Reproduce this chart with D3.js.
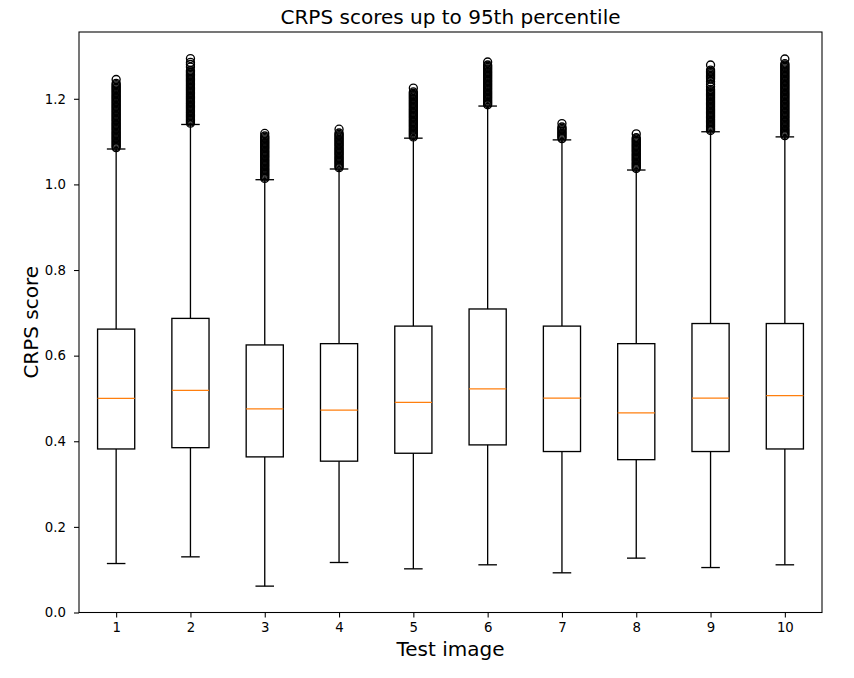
<!DOCTYPE html>
<html>
<head>
<meta charset="utf-8">
<script src="https://cdn.jsdelivr.net/npm/d3@7"></script>
<style>
  html, body { margin: 0; padding: 0; background: #fff; }
  svg { display: block; font-family: "DejaVu Sans", sans-serif; }
</style>
</head>
<body>
<svg id="chart" width="854" height="678"></svg>
<script>
// ---- data ----
const categories = ["1","2","3","4","5","6","7","8","9","10"];
const q1        = [0.382, 0.385, 0.3635, 0.3535, 0.372, 0.3915, 0.376, 0.357, 0.376, 0.382];
const medians   = [0.500, 0.519, 0.4756, 0.4726, 0.491, 0.5223, 0.5006, 0.4663, 0.5006, 0.5067];
const q3        = [0.662, 0.687, 0.625, 0.628, 0.669, 0.709, 0.669, 0.628, 0.675, 0.675];
const whiskerLo = [0.1144, 0.130, 0.0616, 0.1168, 0.102, 0.1114, 0.0927, 0.127, 0.105, 0.1114];
const whiskerHi = [1.0827, 1.140, 1.011, 1.036, 1.108, 1.183, 1.104, 1.0336, 1.123, 1.111];
const fliers1 = [1.086,1.089,1.092,1.095,1.098,1.101,1.104,1.107,1.110,1.113,1.116,1.119,1.122,1.125,1.128,1.131,1.134,1.137,1.140,1.143,1.146,1.149,1.152,1.155,1.158,1.161,1.164,1.167,1.170,1.173,1.176,1.179,1.182,1.185,1.188,1.191,1.194,1.197,1.200,1.203,1.206,1.209,1.212,1.215,1.218,1.221,1.224,1.227,1.230,1.233,1.236,1.245];
const fliers2 = [1.143,1.146,1.149,1.152,1.155,1.158,1.161,1.164,1.167,1.170,1.173,1.176,1.179,1.182,1.185,1.188,1.191,1.194,1.197,1.200,1.203,1.206,1.209,1.212,1.215,1.218,1.221,1.224,1.227,1.230,1.233,1.236,1.239,1.242,1.245,1.248,1.251,1.254,1.257,1.260,1.263,1.266,1.274,1.280,1.285,1.294];
const fliers3 = [1.014,1.017,1.020,1.023,1.026,1.029,1.032,1.035,1.038,1.041,1.044,1.047,1.050,1.053,1.056,1.059,1.062,1.065,1.068,1.071,1.074,1.077,1.080,1.083,1.086,1.089,1.092,1.095,1.098,1.101,1.104,1.107,1.110,1.113,1.119];
const fliers4 = [1.039,1.042,1.045,1.048,1.051,1.054,1.057,1.060,1.063,1.066,1.069,1.072,1.075,1.078,1.081,1.084,1.087,1.090,1.093,1.096,1.099,1.102,1.105,1.108,1.111,1.114,1.117,1.120,1.129];
const fliers5 = [1.111,1.114,1.117,1.120,1.123,1.126,1.129,1.132,1.135,1.138,1.141,1.144,1.147,1.150,1.153,1.156,1.159,1.162,1.165,1.168,1.171,1.174,1.177,1.180,1.183,1.186,1.189,1.192,1.195,1.198,1.201,1.204,1.207,1.210,1.213,1.216,1.225];
const fliers6 = [1.186,1.189,1.192,1.195,1.198,1.201,1.204,1.207,1.210,1.213,1.216,1.219,1.222,1.225,1.228,1.231,1.234,1.237,1.240,1.243,1.246,1.249,1.252,1.255,1.258,1.261,1.264,1.267,1.270,1.273,1.276,1.279,1.286];
const fliers7 = [1.107,1.110,1.113,1.116,1.119,1.122,1.125,1.128,1.131,1.134,1.142];
const fliers8 = [1.037,1.040,1.043,1.046,1.049,1.052,1.055,1.058,1.061,1.064,1.067,1.070,1.073,1.076,1.079,1.082,1.085,1.088,1.091,1.094,1.097,1.100,1.103,1.106,1.109,1.118];
const fliers9 = [1.126,1.129,1.132,1.135,1.138,1.141,1.144,1.147,1.150,1.153,1.156,1.159,1.162,1.165,1.168,1.171,1.174,1.177,1.180,1.183,1.186,1.189,1.192,1.195,1.198,1.201,1.204,1.207,1.210,1.213,1.216,1.219,1.222,1.228,1.234,1.240,1.246,1.249,1.252,1.255,1.258,1.261,1.264,1.267,1.279];
const fliers10 = [1.114,1.117,1.120,1.123,1.126,1.129,1.132,1.135,1.138,1.141,1.144,1.147,1.150,1.153,1.156,1.159,1.162,1.165,1.168,1.171,1.174,1.177,1.180,1.183,1.186,1.189,1.192,1.195,1.198,1.201,1.204,1.207,1.210,1.213,1.216,1.219,1.222,1.225,1.228,1.231,1.234,1.237,1.240,1.243,1.246,1.249,1.252,1.255,1.258,1.261,1.264,1.267,1.270,1.273,1.276,1.279,1.282,1.293];
const fliers = [fliers1,fliers2,fliers3,fliers4,fliers5,fliers6,fliers7,fliers8,fliers9,fliers10];
const yTicks = [0.0, 0.2, 0.4, 0.6, 0.8, 1.0, 1.2];
const titleText = "CRPS scores up to 95th percentile";
const xLabel = "Test image";
const yLabel = "CRPS score";

// ---- layout ----
const L = 79, R = 822, T = 32, B = 612.5;
const svg = d3.select("#chart");
svg.append("rect").attr("width", 854).attr("height", 678).attr("fill", "#fff");

const x = d3.scaleLinear().domain([0.5, categories.length + 0.5]).range([L, R]);
const y = d3.scaleLinear().domain([0, 1.356]).range([B, T]);
const boxW = 0.5, capW = 0.25;
const lw = 1.33;

const data = categories.map((c, i) => ({
  pos: i + 1, q1: q1[i], med: medians[i], q3: q3[i],
  lo: whiskerLo[i], hi: whiskerHi[i], fl: fliers[i]
}));

const g = svg.append("g");

data.forEach(d => {
  const gg = g.append("g");
  // whiskers
  gg.append("line").attr("x1", x(d.pos)).attr("x2", x(d.pos))
    .attr("y1", y(d.q1)).attr("y2", y(d.lo)).attr("stroke", "#000").attr("stroke-width", lw);
  gg.append("line").attr("x1", x(d.pos)).attr("x2", x(d.pos))
    .attr("y1", y(d.q3)).attr("y2", y(d.hi)).attr("stroke", "#000").attr("stroke-width", lw);
  // caps
  [d.lo, d.hi].forEach(v => {
    gg.append("line").attr("x1", x(d.pos - capW / 2)).attr("x2", x(d.pos + capW / 2))
      .attr("y1", y(v)).attr("y2", y(v)).attr("stroke", "#000").attr("stroke-width", lw);
  });
  // box
  gg.append("rect").attr("x", x(d.pos - boxW / 2)).attr("width", x(d.pos + boxW / 2) - x(d.pos - boxW / 2))
    .attr("y", y(d.q3)).attr("height", y(d.q1) - y(d.q3))
    .attr("fill", "none").attr("stroke", "#000").attr("stroke-width", lw);
  // median
  gg.append("line").attr("x1", x(d.pos - boxW / 2)).attr("x2", x(d.pos + boxW / 2))
    .attr("y1", y(d.med)).attr("y2", y(d.med)).attr("stroke", "#ff7f0e").attr("stroke-width", lw);
  // fliers
  gg.selectAll("circle").data(d.fl).join("circle")
    .attr("cx", x(d.pos)).attr("cy", v => y(v)).attr("r", 4)
    .attr("fill", "none").attr("stroke", "#000").attr("stroke-width", lw);
});

// axes
const yAxis = d3.axisLeft(y).tickValues(yTicks).tickFormat(d3.format(".1f")).tickSize(5).tickPadding(8);
const xAxis = d3.axisBottom(x).tickValues(d3.range(1, categories.length + 1)).tickFormat((d, i) => categories[i]).tickSize(5).tickPadding(5);

const ya = svg.append("g").attr("transform", `translate(${L},0)`).call(yAxis);
const xa = svg.append("g").attr("transform", `translate(0,${B})`).call(xAxis);
[ya, xa].forEach(a => {
  a.select(".domain").remove();
  a.selectAll(".tick line").attr("stroke", "#000").attr("stroke-width", 1.07);
  a.selectAll(".tick text").attr("fill", "#000").style("font-size", "13.3px").style("font-family", "DejaVu Sans");
});

// frame
svg.append("rect").attr("x", L).attr("y", T).attr("width", R - L).attr("height", B - T)
  .attr("fill", "none").attr("stroke", "#000").attr("stroke-width", 1.07);

// texts
svg.append("text").attr("x", (L + R) / 2).attr("y", 24.3).attr("text-anchor", "middle")
  .style("font-size", "20px").attr("fill", "#000").text(titleText);
svg.append("text").attr("x", (L + R) / 2).attr("y", 655.5).attr("text-anchor", "middle")
  .style("font-size", "20px").attr("fill", "#000").text(xLabel);
svg.append("text").attr("transform", `translate(37.5,${(T + B) / 2}) rotate(-90)`).attr("text-anchor", "middle")
  .style("font-size", "20px").attr("fill", "#000").text(yLabel);
</script>
</body>
</html>
